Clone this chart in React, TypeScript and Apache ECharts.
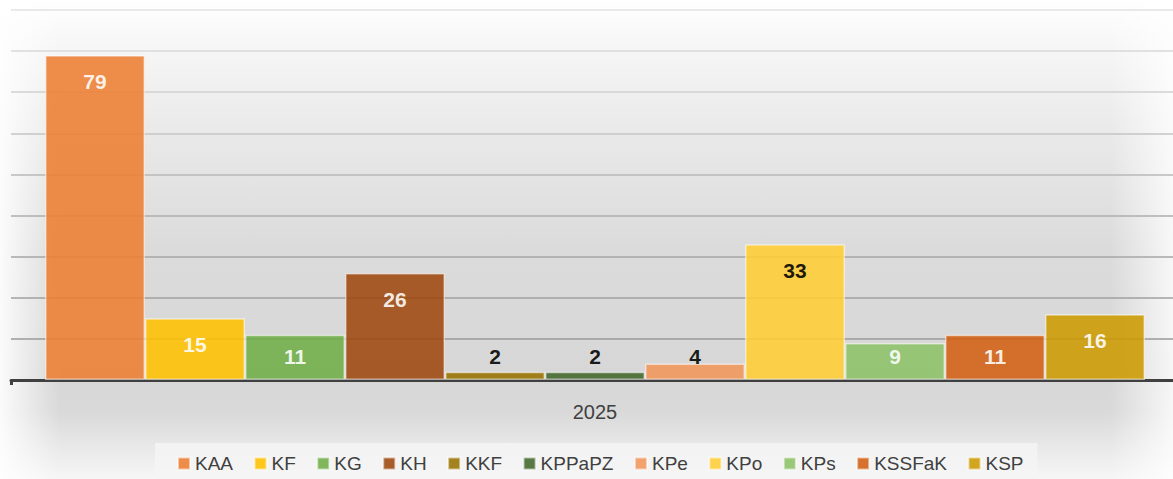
import React, { useEffect, useRef } from "react";
import * as echarts from "echarts";

const categories = ["2025"];
const seriesNames = ["KAA", "KF", "KG", "KH", "KKF", "KPPaPZ", "KPe", "KPo", "KPs", "KSSFaK", "KSP"];
const seriesValues = [79, 15, 11, 26, 2, 2, 4, 33, 9, 11, 16];
const yTicks = [0, 10, 20, 30, 40, 50, 60, 70, 80, 90];

const seriesColors = ["#ED7D31", "#FFC000", "#70AD47", "#9E480E", "#997300", "#43682B", "#F1975A", "#FFCD33", "#8CC168", "#D26012", "#CC9A00"];
const darkLabelSeries = ["KKF", "KPPaPZ", "KPe", "KPo"];
const gridLineColors = ["#999999", "#9a9a9a", "#a0a0a0", "#a6a6a6", "#aeaeae", "#b8b8b8", "#c5c5c5", "#d0d0d0", "#d9d9d9", "#e2e2e2"];

export default function App() {
  const ref = useRef<HTMLDivElement>(null);
  useEffect(() => {
    if (!ref.current) return;
    const chart = echarts.init(ref.current, null, { renderer: "svg" });
    const series = seriesNames.map((name, i) => {
      const v = seriesValues[i];
      const small = v < 13;
      return {
        name,
        type: "bar",
        data: [v],
        barWidth: 100,
        barGap: "0%",
        itemStyle: {
          color: seriesColors[i],
          opacity: 0.88,
          borderColor: "rgba(255,255,255,0.6)",
          borderWidth: 1.5,
        },
        label: {
          show: true,
          position: small ? "insideBottom" : "insideTop",
          distance: small ? 13 : 16,
          color: darkLabelSeries.includes(name) ? "#000000" : "#ffffff",
          fontFamily: "Liberation Sans",
          fontWeight: "bold",
          fontSize: 21,
        },
      };
    });
    const option = {
      animation: false,
      backgroundColor: "#ffffff",
      graphic: [
        {
          type: "rect",
          z: -10,
          silent: true,
          shape: { x: 0, y: 0, width: 1180, height: 479 },
          style: {
            fill: new echarts.graphic.LinearGradient(0, 0, 0, 1, [
              { offset: 0, color: "#ffffff" },
              { offset: 0.1, color: "#f6f6f6" },
              { offset: 0.28, color: "#e9e9e9" },
              { offset: 0.52, color: "#dbdbdb" },
              { offset: 0.79, color: "#d7d7d7" },
              { offset: 0.86, color: "#d9d9d9" },
              { offset: 0.92, color: "#e6e6e6" },
              { offset: 1, color: "#f6f6f6" },
            ]),
          },
        },
        {
          type: "rect",
          z: -9,
          silent: true,
          shape: { x: 0, y: 0, width: 60, height: 479 },
          style: {
            fill: new echarts.graphic.LinearGradient(0, 0, 1, 0, [
              { offset: 0, color: "rgba(255,255,255,0.9)" },
              { offset: 1, color: "rgba(255,255,255,0)" },
            ]),
          },
        },
        {
          type: "rect",
          z: -9,
          silent: true,
          shape: { x: 1110, y: 0, width: 63, height: 479 },
          style: {
            fill: new echarts.graphic.LinearGradient(0, 0, 1, 0, [
              { offset: 0, color: "rgba(255,255,255,0)" },
              { offset: 1, color: "rgba(255,255,255,0.8)" },
            ]),
          },
        },
      ],
      grid: { left: 11, top: 10, bottom: 99, width: 1168, containLabel: false },
      legend: {
        bottom: 0,
        left: 155,
        icon: "rect",
        itemWidth: 12,
        itemHeight: 12,
        itemGap: 20.5,
        padding: [11, 14, 6, 22],
        backgroundColor: "rgba(244,244,244,0.85)",
        textStyle: { fontFamily: "Liberation Sans", fontSize: 19, color: "#404040" },
        data: seriesNames,
      },
      xAxis: {
        type: "category",
        data: categories,
        axisLine: { show: true, lineStyle: { color: "#404040", width: 3 } },
        axisTick: { show: true, length: 5, lineStyle: { color: "#404040", width: 3 } },
        axisLabel: { margin: 22, fontFamily: "Liberation Sans", fontSize: 20, color: "#404040" },
      },
      yAxis: {
        type: "value",
        min: yTicks[0],
        max: yTicks[yTicks.length - 1],
        interval: 10,
        axisLabel: { show: false },
        axisLine: { show: false },
        axisTick: { show: false },
        splitLine: { show: true, lineStyle: { color: gridLineColors, width: 1.5 } },
      },
      series,
    };
    chart.setOption(option as any);
    return () => chart.dispose();
  }, []);
  return (
    <div style={{ position: "fixed", left: 0, top: 0, width: 1173, height: 479, overflow: "hidden" }}>
      <div ref={ref} style={{ position: "absolute", left: 0, top: 0, width: 1180, height: 479 }} />
    </div>
  );
}
